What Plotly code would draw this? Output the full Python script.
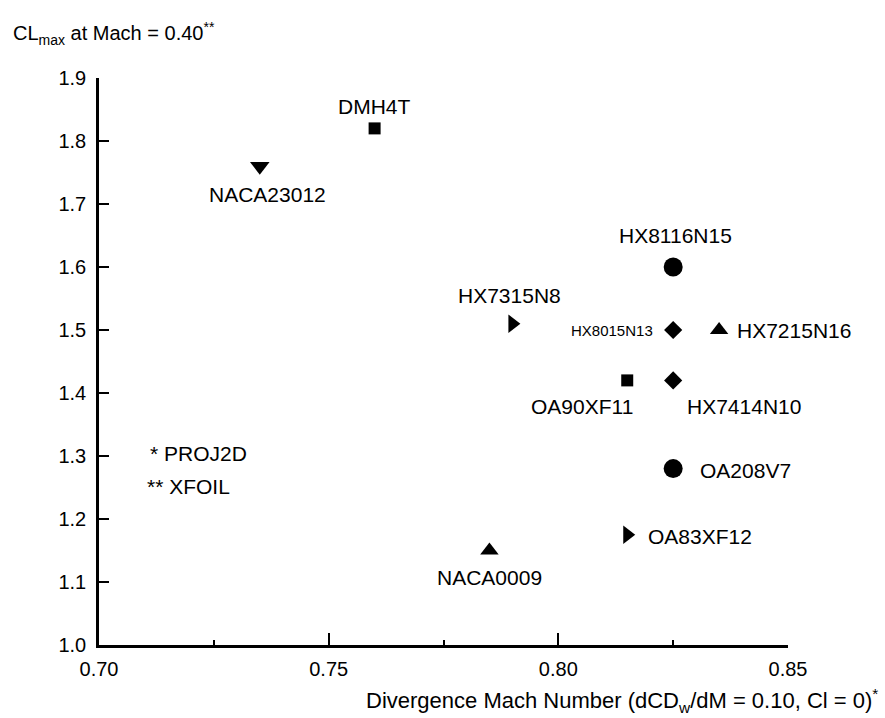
import plotly.graph_objects as go

# ---- data ----
airfoils = ["DMH4T", "NACA23012", "HX8116N15", "HX7315N8", "HX8015N13", "HX7215N16",
            "OA90XF11", "HX7414N10", "OA208V7", "OA83XF12", "NACA0009"]
mach_div = [0.760, 0.735, 0.825, 0.790, 0.825, 0.835, 0.815, 0.825, 0.825, 0.815, 0.785]
cl_max = [1.82, 1.76, 1.60, 1.51, 1.50, 1.50, 1.42, 1.42, 1.28, 1.175, 1.15]

x_ticks = [0.70, 0.75, 0.80, 0.85]
y_ticks = [1.0, 1.1, 1.2, 1.3, 1.4, 1.5, 1.6, 1.7, 1.8, 1.9]

# ---- styles ----
symbols = ["square", "triangle-down", "circle", "triangle-right", "diamond", "triangle-up",
           "square", "diamond", "circle", "triangle-right", "triangle-up"]
sizes = [12, 17, 19, 16, 14, 16, 12, 14, 19, 16, 16]
# label offsets in pixels (xshift, yshift, xanchor, fontsize)
label_style = [
    (0, 22, "center", 21),
    (8, -28, "center", 21),
    (2, 32, "center", 21),
    (-3, 28, "center", 21),
    (-18, 0, "right", 15),
    (16, 0, "left", 21),
    (-45, -26, "center", 21),
    (71, -26, "center", 21),
    (25, -2, "left", 21),
    (19, -2, "left", 21),
    (0, -27, "center", 21),
]

FONT = "Liberation Sans, Arial, Helvetica, sans-serif"

fig = go.Figure()
for name, xv, yv, sym, sz in zip(airfoils, mach_div, cl_max, symbols, sizes):
    fig.add_trace(go.Scatter(
        x=[xv], y=[yv], mode="markers", name=name,
        marker=dict(symbol=sym, size=sz, color="black", line=dict(width=0)),
        showlegend=False, cliponaxis=False,
    ))

annotations = []
for name, xv, yv, (dx, dy, anc, fs) in zip(airfoils, mach_div, cl_max, label_style):
    annotations.append(dict(
        x=xv, y=yv, xref="x", yref="y", text=name, showarrow=False,
        xshift=dx, yshift=dy, xanchor=anc, yanchor="middle",
        font=dict(family=FONT, size=fs, color="black"),
    ))

# notes
annotations.append(dict(x=0.0714, y=0.337, xref="paper", yref="paper", text="* PROJ2D",
                        showarrow=False, xanchor="left", yanchor="middle",
                        font=dict(family=FONT, size=21, color="black")))
annotations.append(dict(x=0.067, y=0.28, xref="paper", yref="paper", text="** XFOIL",
                        showarrow=False, xanchor="left", yanchor="middle",
                        font=dict(family=FONT, size=21, color="black")))

# axis titles
annotations.append(dict(x=-0.128, y=1.079, xref="paper", yref="paper",
                        text="CL<sub>max</sub> at Mach = 0.40<sup>**</sup>",
                        showarrow=False, xanchor="left", yanchor="middle",
                        font=dict(family=FONT, size=20, color="black")))
annotations.append(dict(x=1.133, y=-0.098, xref="paper", yref="paper",
                        text="Divergence Mach Number (dCD<sub>w</sub>/dM = 0.10, Cl = 0)<sup>*</sup>",
                        showarrow=False, xanchor="right", yanchor="middle",
                        font=dict(family=FONT, size=22, color="black")))

fig.update_layout(
    width=885, height=718,
    margin=dict(l=99, r=97, t=78, b=73, pad=0),
    paper_bgcolor="white", plot_bgcolor="white",
    font=dict(family=FONT, size=18, color="black"),
    annotations=annotations,
)
fig.update_xaxes(
    range=[0.70, 0.85], tickvals=x_ticks, ticktext=[f"{v:.2f}" for v in x_ticks],
    showgrid=False, zeroline=False, showline=True, linecolor="black", linewidth=3,
    ticks="inside", ticklen=12, tickwidth=2, tickcolor="black",
    minor=dict(dtick=0.025, tick0=0.70, ticks="inside", ticklen=5, tickwidth=1.5, tickcolor="black", showgrid=False),
    tickfont=dict(family=FONT, size=20, color="black"), ticklabelstandoff=4,
)
fig.update_yaxes(
    range=[1.0, 1.9], tickvals=y_ticks, ticktext=[f"{v:.1f}" for v in y_ticks],
    showgrid=False, zeroline=False, showline=True, linecolor="black", linewidth=2.5,
    ticks="inside", ticklen=10, tickwidth=1.5, tickcolor="black",
    tickfont=dict(family=FONT, size=20, color="black"), ticklabelstandoff=6,
)

fig.write_html("out.html")
